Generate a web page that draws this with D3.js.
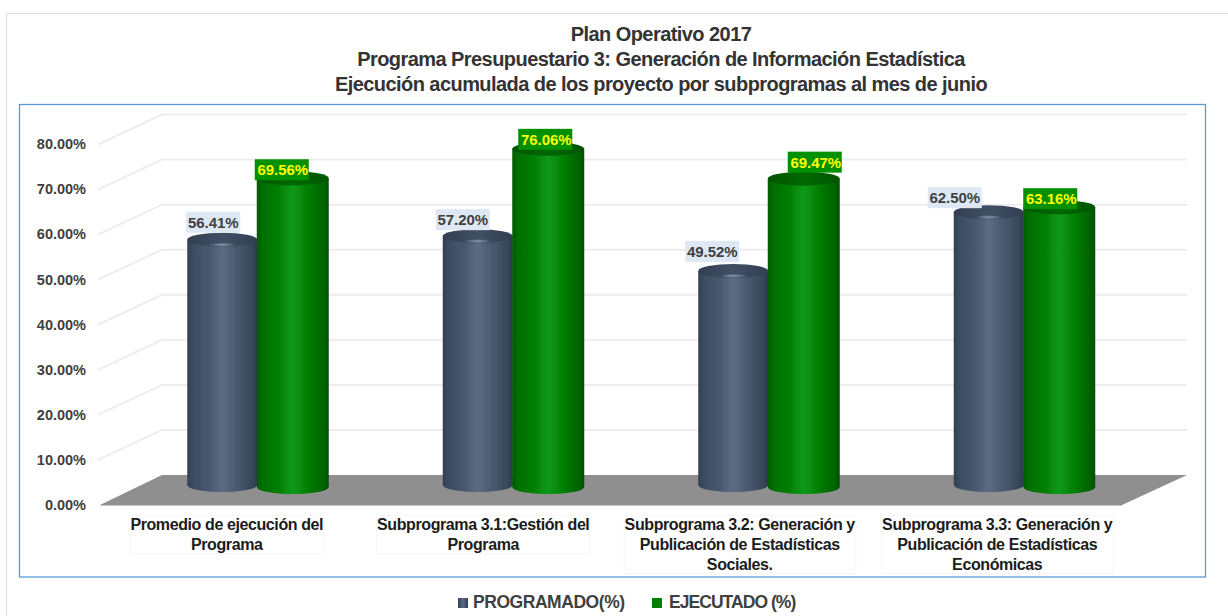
<!DOCTYPE html>
<html><head><meta charset="utf-8">
<script src="https://cdn.jsdelivr.net/npm/d3@7/dist/d3.min.js"></script>
<style>html,body{margin:0;padding:0;background:#fff}svg{display:block}text{font-family:"Liberation Sans",Arial,sans-serif;font-weight:bold}</style>
</head><body><div id="chart"></div>
<script>
const titleLines=["Plan Operativo 2017","Programa Presupuestario 3: Generación de Información Estadística","Ejecución acumulada de los proyecto por subprogramas al mes de junio"];
const categories=[["Promedio de ejecución del","Programa"],["Subprograma 3.1:Gestión del","Programa"],["Subprograma 3.2: Generación y","Publicación de Estadísticas","Sociales."],["Subprograma 3.3: Generación y","Publicación de Estadísticas","Económicas"]];
const programado=[56.41,57.20,49.52,62.50];
const ejecutado=[69.56,76.06,69.47,63.16];
const yTicks=[0,10,20,30,40,50,60,70,80];
const seriesNames=["PROGRAMADO(%)","EJECUTADO (%)"];

// hand-placed label offsets of the original, relative to each cylinder / band
const blueLabelDx=[-1,-7,-13,-26], blueLabelDy=[-21,-20,-23,-18];
const greenLabelDx=[-2,6,20,0], greenLabelDy=[-12,-13,-20,-12];
const categoryDx=[-31,-30,-29,-27];

const W=1228,H=616;
const svg=d3.select("#chart").append("svg").attr("width",W).attr("height",H);
const defs=svg.append("defs");
function grad(id,stops){const g=defs.append("linearGradient").attr("id",id);stops.forEach(s=>g.append("stop").attr("offset",s[0]).attr("stop-color",s[1]));}
grad("gBlue",[[0,"#323f52"],[.08,"#3d4c61"],[.3,"#48586e"],[.5,"#5d6c82"],[.72,"#48586e"],[.93,"#38465a"],[1,"#2c394b"]]);
grad("gGreen",[[0,"#005a00"],[.08,"#006f00"],[.28,"#007d00"],[.5,"#11991a"],[.72,"#007d00"],[.92,"#006400"],[1,"#004f00"]]);
grad("gBlueTop",[[0,"#323f52"],[.5,"#414f64"],[1,"#323f52"]]);
grad("gGreenTop",[[0,"#005500"],[.5,"#006800"],[1,"#005500"]]);
const sh=defs.append("filter").attr("id","soft").attr("x","-10%").attr("y","-10%").attr("width","120%").attr("height","120%");
sh.append("feGaussianBlur").attr("stdDeviation",0.7);
const hl=defs.append("radialGradient").attr("id","hl");
hl.append("stop").attr("offset",0).attr("stop-color","#8b9bb0");hl.append("stop").attr("offset",1).attr("stop-color","#8b9bb0").attr("stop-opacity",0);

// frames
svg.append("path").attr("d","M6.5,616V13.5H1228").attr("fill","none").attr("stroke","#dcdcdc");
svg.append("rect").attr("x",19.5).attr("y",104.5).attr("width",1186).attr("height",472.5).attr("fill","#fff").attr("stroke","#5b9bd5").attr("stroke-width",1.3);

// title
svg.append("g").selectAll("text").data(titleLines).join("text")
 .attr("x",661).attr("y",(d,i)=>41+i*25).attr("text-anchor","middle").attr("font-size",20).attr("letter-spacing",-0.56).attr("fill","#333").text(d=>d);

// scales
const y=d3.scaleLinear().domain([0,80]).range([505,144.5]);
const x=d3.scaleBand().domain(d3.range(categories.length)).range([130,1152]);
const height=d3.scaleLinear().domain([0,80]).range([0,362]);
const dep={dx:64,dy:-30};

// walls
svg.append("g").selectAll("path").data(yTicks.filter(t=>t>0)).join("path")
 .attr("d",t=>`M98,${y(t)}L${98+dep.dx},${y(t)+dep.dy}H1187`).attr("fill","none").attr("stroke","#ededed").attr("stroke-width",2);
// floor
svg.append("path").attr("d",`M100,${y(0)}L${100+62},${y(0)+dep.dy}H1187L1122,${y(0)}Z`).attr("fill","#8f8f8f");
svg.append("path").attr("d",`M100,${y(0)+.5}H1122`).attr("stroke","#c8c8c8").attr("stroke-width",1);

// y axis
const ax=svg.append("g").attr("transform","translate(86,0)").call(d3.axisLeft(y).tickValues(yTicks).tickSize(0).tickPadding(0).tickFormat(d=>d3.format(".2f")(d)+"%"));
ax.select(".domain").remove();
ax.selectAll("text").attr("font-size",14.5).attr("fill","#404040").attr("font-family",'"Liberation Sans",Arial,sans-serif').attr("font-weight","bold").attr("dy","0.3em");

// cylinders
const ry=7;
function cyl(values,cfg){
 const g=svg.append("g").selectAll("g").data(values).join("g");
 const top=v=>cfg.zero-height(v);
 const L=(d,i)=>x(i)+x.bandwidth()/2+cfg.off;
 g.append("path").attr("d",(d,i)=>{const l=L(d,i),w=cfg.w,t=top(d)+ry;return `M${l},${t}V${cfg.base-ry}A${w/2},${ry} 0 0 0 ${l+w},${cfg.base-ry}V${t}Z`;})
  .attr("fill",`url(#${cfg.grad})`).attr("filter","url(#soft)");
 g.append("ellipse").attr("cx",(d,i)=>L(d,i)+cfg.w/2).attr("cy",d=>top(d)+ry).attr("rx",cfg.w/2).attr("ry",ry).attr("fill",`url(#${cfg.topGrad})`);
 if(cfg.hl) g.append("ellipse").attr("cx",(d,i)=>L(d,i)+cfg.w/2).attr("cy",d=>top(d)+ry+5).attr("rx",14).attr("ry",2.2).attr("fill","url(#hl)");
 g.append("rect").attr("x",(d,i)=>L(d,i)+cfg.dx[i]).attr("y",(d,i)=>top(d)+cfg.dy[i]).attr("width",54).attr("height",21).attr("fill",cfg.boxFill);
 g.append("text").attr("x",(d,i)=>L(d,i)+cfg.dx[i]+27+cfg.textDx).attr("y",(d,i)=>top(d)+cfg.dy[i]+16).attr("text-anchor","middle").attr("font-size",15).attr("letter-spacing",-0.1).attr("fill",cfg.textFill).text(d=>d.toFixed(2)+"%");
}
cyl(programado,{off:-70.5,w:70,base:492,zero:488,grad:"gBlue",topGrad:"gBlueTop",hl:true,dx:blueLabelDx,dy:blueLabelDy,textDx:0,boxFill:"#dde8f3",textFill:"#404040"});
cyl(ejecutado,{off:-1,w:72,base:494,zero:486,grad:"gGreen",topGrad:"gGreenTop",hl:false,dx:greenLabelDx,dy:greenLabelDy,textDx:1,boxFill:"#009000",textFill:"#ffff00"});

// category labels
const cg=svg.append("g").selectAll("g").data(categories).join("g");
cg.selectAll("text").data(d=>d).join("text")
 .attr("x",function(){const i=categories.indexOf(d3.select(this.parentNode).datum());return x(i)+x.bandwidth()/2+categoryDx[i];})
 .attr("y",(d,i)=>530+i*20).attr("text-anchor","middle").attr("font-size",16).attr("letter-spacing",-0.4).attr("fill","#1c1c1c").text(d=>d);
cg.each(function(){const b=this.getBBox();d3.select(this).insert("rect","text").attr("x",b.x-.5).attr("y",b.y-.5).attr("width",b.width+1).attr("height",b.height+1).attr("fill","none").attr("stroke","#f6f6f6");});

// legend
const legendX=d3.scaleOrdinal().domain(seriesNames).range([458,652]);
const legendFill=d3.scaleOrdinal().domain(seriesNames).range(["url(#gBlue)","#007f00"]);
const legendSpacing=d3.scaleOrdinal().domain(seriesNames).range([-0.45,-0.95]);
const lg=svg.append("g").selectAll("g").data(seriesNames).join("g");
lg.append("rect").attr("x",d=>legendX(d)).attr("y",598).attr("width",10).attr("height",10).attr("fill",d=>legendFill(d));
lg.append("text").attr("x",d=>legendX(d)+15+(d===seriesNames[1]?2:0)).attr("y",608).attr("font-size",17.5).attr("letter-spacing",d=>legendSpacing(d)).attr("fill","#404040").text(d=>d);
</script></body></html>
